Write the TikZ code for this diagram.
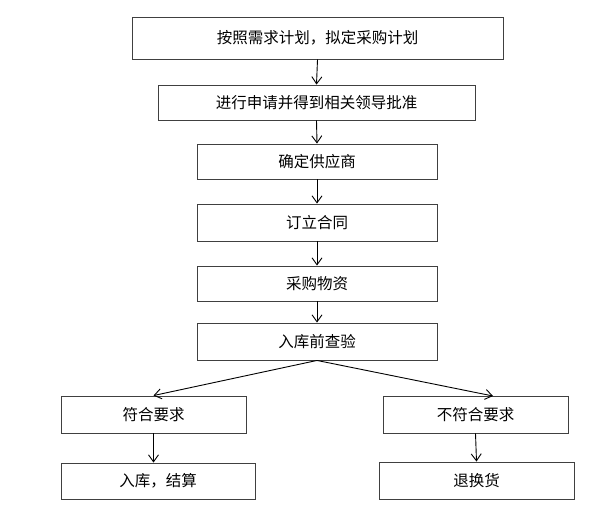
\documentclass[tikz,border=0pt]{standalone}
\usepackage{fontspec}
\newfontfamily\cjk{Noto Sans CJK SC}
\usetikzlibrary{arrows.meta}
\begin{document}
\begin{tikzpicture}[x=1pt,y=-1pt,
  box/.style={draw=black!75,line width=0.9pt,rectangle,inner sep=0pt,font=\cjk\fontsize{15.5}{18}\selectfont},
  conn/.style={draw=black,line width=0.9pt,-{Straight Barb[length=7pt,width=10pt,line width=0.9pt]}}]
\useasboundingbox (0,0) rectangle (597,511);
\node[box,minimum width=371pt,minimum height=42pt] (b1) at (317.5,38) {按照需求计划，拟定采购计划};
\node[box,minimum width=317pt,minimum height=35pt] (b2) at (316.5,102.5) {进行申请并得到相关领导批准};
\node[box,minimum width=240pt,minimum height=35pt] (b3) at (317,161.5) {确定供应商};
\node[box,minimum width=240pt,minimum height=37pt] (b4) at (317,222.5) {订立合同};
\node[box,minimum width=240pt,minimum height=35pt] (b5) at (317,283.5) {采购物资};
\node[box,minimum width=240pt,minimum height=37pt] (b6) at (317,341.5) {入库前查验};
\node[box,minimum width=185pt,minimum height=37pt] (b7) at (153.5,414.5) {符合要求};
\node[box,minimum width=185pt,minimum height=37pt] (b8) at (475.5,414.5) {不符合要求};
\node[box,minimum width=194pt,minimum height=36pt] (b9) at (158,481) {入库，结算};
\node[box,minimum width=195pt,minimum height=37pt] (b10) at (476.5,480.5) {退换货};
\coordinate (rt) at (493,396);
\draw[conn] (b1.south) -- (b2.north);
\draw[conn] (b2.south) -- (b3.north);
\draw[conn] (b3.south) -- (b4.north);
\draw[conn] (b4.south) -- (b5.north);
\draw[conn] (b5.south) -- (b6.north);
\draw[conn] (b6.south) -- (b7.north);
\draw[conn] (b6.south) -- (rt);
\draw[conn] (b7.south) -- (b7.south |- b9.north);
\draw[conn] (b8.south) -- (b10.north);
\end{tikzpicture}
\end{document}
